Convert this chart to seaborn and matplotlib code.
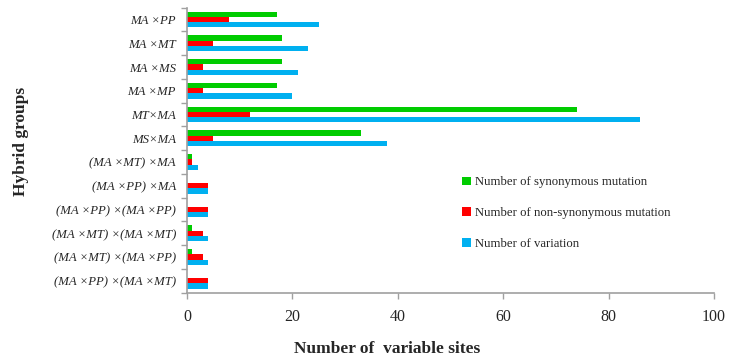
import numpy as np
import pandas as pd
import matplotlib
matplotlib.use("Agg")
import matplotlib.pyplot as plt
import seaborn as sns

groups = ["MA ×PP", "MA ×MT", "MA ×MS", "MA ×MP", "MT×MA", "MS×MA",
          "(MA ×MT) ×MA", "(MA ×PP) ×MA", "(MA ×PP) ×(MA ×PP)",
          "(MA ×MT) ×(MA ×MT)", "(MA ×MT) ×(MA ×PP)", "(MA ×PP) ×(MA ×MT)"]
synonymous = [17, 18, 18, 17, 74, 33, 1, 0, 0, 1, 1, 0]
non_synonymous = [8, 5, 3, 3, 12, 5, 1, 4, 4, 3, 3, 4]
variation = [25, 23, 21, 20, 86, 38, 2, 4, 4, 4, 4, 4]
series_names = ["Number of synonymous mutation",
                "Number of non-synonymous mutation",
                "Number of variation"]
colors = ["#00CC00", "#FF0000", "#00B0F0"]

df = pd.DataFrame({
    "group": groups * 3,
    "value": synonymous + non_synonymous + variation,
    "series": [series_names[0]] * 12 + [series_names[1]] * 12 + [series_names[2]] * 12,
})

sns.set_theme(style="white")
plt.rcParams["font.family"] = ["Liberation Serif", "DejaVu Serif"]

fig = plt.figure(figsize=(7.29, 3.6), dpi=100)
ax = fig.add_axes([187 / 729, 1 - 292.7 / 360, (714 - 187) / 729, (292.7 - 7.7) / 360])

sns.barplot(data=df, x="value", y="group", hue="series", order=groups,
            hue_order=series_names, palette=colors, orient="h",
            width=0.66, ax=ax, saturation=1, linewidth=0)

ax.set_xlim(0, 100)
ax.set_ylim(11.5, -0.5)
ax.set_xticks(np.arange(0, 101, 20))
ax.set_xticklabels([str(v) for v in range(0, 101, 20)], fontsize=11.5)
ax.set_yticks(np.arange(12))
ax.set_yticklabels(groups, fontsize=9.2, style="italic")
ax.set_yticks(np.arange(-0.5, 12, 1), minor=True)
ax.tick_params(axis="y", which="major", length=0, pad=8)
ax.tick_params(axis="y", which="minor", length=4, color="#A0A0A0", width=1, direction="out", left=True)
ax.tick_params(axis="x", which="major", length=4, color="#A0A0A0", width=1, direction="out", bottom=True, pad=8)

for s in ["top", "right"]:
    ax.spines[s].set_visible(False)
for s in ["left", "bottom"]:
    ax.spines[s].set_color("#A0A0A0")
    ax.spines[s].set_linewidth(1.2)

ax.set_xlabel("")
ax.set_ylabel("")
fig.text(387 / 729, 1 - 349 / 360, "Number of  variable sites", ha="center", va="center",
         fontsize=12.5, fontweight="bold")
fig.text(21 / 729, 1 - 141 / 360, "Hybrid groups", ha="center", va="center", rotation=90,
         fontsize=12.5, fontweight="bold")

handles, labels = ax.get_legend_handles_labels()
ax.legend(handles, labels, loc="center left", bbox_to_anchor=(462 / 729, 1 - 213 / 360),
          bbox_transform=fig.transFigure, frameon=False, fontsize=9.2,
          handlelength=0.7, handleheight=0.7, handletextpad=0.3, labelspacing=1.45,
          borderaxespad=0, borderpad=0)

fig.savefig("out.png", dpi=100)
